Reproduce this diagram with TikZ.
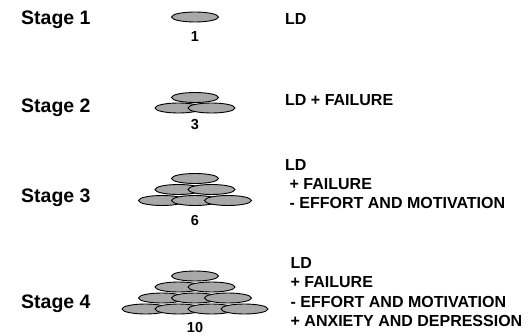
\documentclass[tikz,border=0pt]{standalone}
\usepackage{fontspec}
\setmainfont{Liberation Sans}
\usetikzlibrary{shapes.geometric}
\definecolor{discfill}{RGB}{168,168,168}
\begin{document}
\begin{tikzpicture}[x=1pt,y=-1pt,
  disc/.style={ellipse, draw=black, line width=0.9pt, fill=discfill,
    minimum width=47pt, minimum height=10pt, inner sep=0pt},
  stagelbl/.style={anchor=base west, inner sep=0pt, font=\fontsize{19.5}{20}\selectfont\bfseries},
  numlbl/.style={anchor=base, inner sep=0pt, font=\fontsize{14.5}{15}\selectfont\bfseries},
  txt/.style={anchor=base west, inner sep=0pt, font=\fontsize{16}{16}\selectfont\bfseries}]
\useasboundingbox (0,0) rectangle (529,334);
% Stage labels
\node[stagelbl] (st1) at (21,25) {Stage 1};
\node[stagelbl] (st2) at (21,113) {Stage 2};
\node[stagelbl] (st3) at (21,202) {Stage 3};
\node[stagelbl] (st4) at (21,308) {Stage 4};
% Stage 1 pyramid
\node[disc] (a1) at (195,17) {};
\node[numlbl] (n1) at (195,41.5) {1};
% Stage 2 pyramid
\node[disc] (b1) at (195,97.5) {};
\node[disc] (b2) at (178.5,108) {};
\node[disc] (b3) at (211.5,108) {};
\node[numlbl] (n2) at (195,129.5) {3};
% Stage 3 pyramid
\node[disc] (c1) at (195,178.5) {};
\node[disc] (c2) at (178.5,189.5) {};
\node[disc] (c3) at (211.5,189.5) {};
\node[disc] (c4) at (162,200.5) {};
\node[disc] (c5) at (195,200.5) {};
\node[disc] (c6) at (228,200.5) {};
\node[numlbl] (n3) at (195,225) {6};
% Stage 4 pyramid
\node[disc] (d1) at (195,276) {};
\node[disc] (d2) at (178.5,287) {};
\node[disc] (d3) at (211.5,287) {};
\node[disc] (d4) at (162,298) {};
\node[disc] (d5) at (195,298) {};
\node[disc] (d6) at (228,298) {};
\node[disc] (d7) at (145.5,309) {};
\node[disc] (d8) at (178.5,309) {};
\node[disc] (d9) at (211.5,309) {};
\node[disc] (d10) at (244.5,309) {};
\node[numlbl] (n4) at (195,332) {10};
% Descriptions
\node[txt] (t1) at (285,25) {LD};
\node[txt] (t2) at (285,106) {LD + FAILURE};
\node[txt] (t3a) at (285,170.5) {LD};
\node[txt] (t3b) at (289.5,189.5) {+ FAILURE};
\node[txt] (t3c) at (289.5,208.5) {- EFFORT AND MOTIVATION};
\node[txt] (t4a) at (290.5,268) {LD};
\node[txt] (t4b) at (290.5,287.5) {+ FAILURE};
\node[txt] (t4c) at (290.5,307) {- EFFORT AND MOTIVATION};
\node[txt] (t4d) at (290.5,326.5) {+ ANXIETY AND DEPRESSION};
\end{tikzpicture}
\end{document}
